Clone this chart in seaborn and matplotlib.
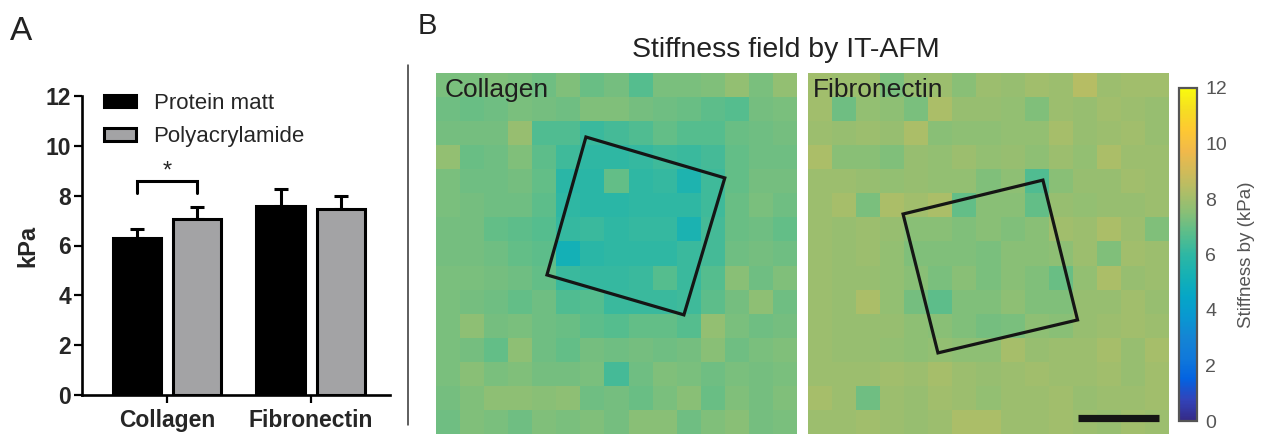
import numpy as np
import pandas as pd
import seaborn as sns
import matplotlib.pyplot as plt
from matplotlib.colors import LinearSegmentedColormap
from matplotlib.patches import Polygon
from matplotlib.lines import Line2D

# ---- Panel A data (bar chart, kPa) ----
coatings = ['Collagen', 'Collagen', 'Fibronectin', 'Fibronectin']
substrates = ['Protein matt', 'Polyacrylamide', 'Protein matt', 'Polyacrylamide']
stiffness_mean = [6.3, 7.05, 7.6, 7.48]
stiffness_err = [0.35, 0.5, 0.65, 0.5]
sig_low, sig_high = 8.1, 8.6

# ---- Panel B data (15 x 15 stiffness maps, kPa) ----
collagen_map = [
    [7.3, 7.3, 7.4, 7.3, 7.1, 7.4, 7.0, 7.2, 6.7, 7.3, 7.3, 7.4, 7.7, 7.3, 7.7],
    [7.1, 7.0, 7.1, 7.3, 7.2, 7.1, 7.4, 7.4, 7.2, 7.1, 7.0, 6.8, 6.7, 7.2, 7.3],
    [7.2, 7.2, 7.2, 7.8, 6.6, 6.6, 6.2, 6.4, 6.6, 6.9, 6.7, 6.7, 7.0, 7.1, 7.2],
    [7.7, 7.0, 7.1, 7.4, 6.8, 6.3, 6.0, 6.0, 6.1, 6.3, 6.2, 6.4, 6.9, 7.1, 7.1],
    [7.3, 7.1, 7.1, 7.2, 6.9, 5.9, 5.9, 6.9, 6.0, 6.1, 5.5, 6.3, 6.9, 7.2, 7.2],
    [7.3, 7.2, 7.1, 7.1, 6.8, 6.0, 5.9, 5.9, 6.0, 6.0, 6.0, 6.3, 7.0, 7.3, 7.1],
    [7.2, 7.2, 6.9, 6.8, 6.7, 6.1, 6.2, 6.0, 6.1, 6.1, 5.4, 6.4, 7.0, 7.1, 6.9],
    [7.2, 7.2, 7.1, 6.9, 6.8, 5.2, 5.9, 6.0, 6.0, 6.0, 6.2, 6.4, 7.1, 7.2, 7.1],
    [7.3, 7.3, 7.2, 7.1, 6.9, 6.2, 6.1, 6.1, 6.2, 6.7, 6.2, 6.7, 7.5, 7.1, 7.4],
    [7.3, 7.2, 7.1, 6.9, 7.1, 6.6, 6.7, 6.2, 6.2, 6.2, 6.3, 6.8, 7.2, 7.6, 7.1],
    [7.3, 7.6, 7.2, 7.3, 7.1, 7.0, 6.8, 6.7, 6.9, 6.9, 6.7, 7.7, 7.3, 7.1, 7.2],
    [7.3, 7.2, 6.9, 7.6, 7.1, 6.9, 7.2, 7.1, 7.2, 7.1, 7.2, 7.5, 7.1, 7.3, 7.4],
    [7.3, 7.5, 7.3, 7.4, 7.2, 7.2, 7.3, 6.4, 7.1, 7.4, 7.3, 7.1, 7.3, 7.2, 7.3],
    [7.2, 7.4, 7.6, 7.6, 7.5, 7.6, 7.1, 7.2, 7.0, 7.3, 7.5, 7.0, 7.4, 7.2, 7.4],
    [7.1, 7.4, 7.3, 7.1, 7.4, 7.3, 7.4, 7.2, 7.5, 7.5, 7.1, 7.4, 7.5, 7.2, 7.3],
]
fibronectin_map = [
    [8.0, 7.9, 7.9, 7.3, 7.8, 7.9, 7.5, 7.9, 7.8, 8.0, 7.9, 8.4, 7.9, 8.0, 8.0],
    [8.0, 7.1, 7.7, 7.6, 7.3, 8.2, 7.8, 7.8, 7.7, 7.4, 7.9, 7.8, 8.0, 7.9, 7.8],
    [7.9, 7.8, 7.9, 7.8, 8.2, 7.5, 7.6, 7.6, 7.7, 7.7, 8.1, 7.8, 7.9, 8.0, 7.8],
    [8.2, 7.5, 7.5, 7.4, 7.8, 7.7, 7.9, 7.7, 7.8, 7.6, 7.9, 7.7, 8.2, 7.9, 7.9],
    [7.9, 7.9, 7.8, 7.7, 7.8, 7.7, 7.7, 7.4, 7.6, 6.6, 7.5, 7.8, 7.8, 8.0, 7.9],
    [7.9, 8.1, 7.3, 8.2, 8.0, 8.2, 6.9, 7.5, 7.5, 6.9, 7.8, 7.7, 7.8, 7.8, 7.9],
    [7.9, 7.8, 7.9, 7.8, 7.5, 7.5, 7.4, 7.5, 7.4, 7.5, 8.0, 7.9, 8.2, 7.9, 7.4],
    [7.9, 7.8, 7.9, 7.7, 7.4, 7.4, 7.4, 7.3, 7.5, 7.5, 7.6, 7.9, 7.4, 8.0, 7.9],
    [7.9, 7.8, 7.8, 7.7, 7.5, 7.3, 7.5, 7.3, 7.5, 7.4, 7.0, 7.7, 8.2, 7.8, 7.9],
    [7.9, 7.8, 8.2, 7.7, 7.2, 6.8, 7.4, 7.4, 7.6, 7.4, 7.4, 7.8, 7.8, 8.0, 7.8],
    [7.9, 7.8, 7.8, 7.8, 7.6, 7.5, 7.4, 7.2, 7.3, 7.6, 7.5, 7.8, 7.9, 8.0, 7.9],
    [7.9, 7.8, 7.8, 7.7, 7.6, 7.7, 7.6, 7.6, 8.1, 7.8, 7.9, 7.9, 8.1, 7.8, 8.1],
    [7.9, 7.9, 7.9, 8.0, 7.9, 8.1, 7.9, 7.8, 7.9, 8.0, 7.9, 7.9, 8.0, 7.8, 8.0],
    [8.1, 7.9, 7.1, 7.9, 7.8, 8.0, 7.9, 7.7, 7.9, 7.9, 8.0, 7.8, 7.9, 7.9, 8.0],
    [7.9, 7.9, 8.0, 7.9, 7.8, 7.9, 8.2, 8.2, 7.9, 7.9, 8.0, 7.9, 7.8, 8.0, 7.9],
]
# cell region outlines (map cell units: column, row)
collagen_roi = [(6.23, 2.66), (12.0, 4.36), (10.3, 10.05), (4.61, 8.39)]
fibronectin_roi = [(3.95, 5.86), (9.76, 4.45), (11.2, 10.26), (5.4, 11.63)]
scalebar_x = [11.2, 14.6]
scalebar_y = [14.35, 14.35]
cbar_ticks = [0, 2, 4, 6, 8, 10, 12]

# parula-like colormap
parula_colors = [
    (0.2081, 0.1663, 0.5292), (0.1959, 0.2645, 0.7279), (0.0117, 0.3875, 0.8820),
    (0.0629, 0.4737, 0.8554), (0.0793, 0.5200, 0.8312), (0.0343, 0.5966, 0.8199),
    (0.0228, 0.6535, 0.7768), (0.0843, 0.6928, 0.7062), (0.1801, 0.7177, 0.6424),
    (0.3482, 0.7424, 0.5473), (0.5300, 0.7491, 0.4661), (0.6834, 0.7435, 0.4044),
    (0.8185, 0.7327, 0.3498), (0.9450, 0.7261, 0.2886), (0.9955, 0.7861, 0.1967),
    (0.9626, 0.8705, 0.1309), (0.9763, 0.9831, 0.0538),
]
parula = LinearSegmentedColormap.from_list('parula', parula_colors)

sns.set_style('white')
plt.rcParams['font.family'] = ['Liberation Sans', 'DejaVu Sans']

fig = plt.figure(figsize=(12.61, 4.37), dpi=100)
W, H = 1261, 437


def fig_box(x0, y0, x1, y1):
    # pixel box (top-left origin) -> figure fraction rect
    return [x0 / W, 1 - y1 / H, (x1 - x0) / W, (y1 - y0) / H]


# ---------------- Panel A ----------------
ax = fig.add_axes(fig_box(82, 96, 390, 395))
bars = pd.DataFrame({'Coating': coatings, 'Substrate': substrates, 'kPa': stiffness_mean})
sns.barplot(data=bars, x='Coating', y='kPa', hue='Substrate',
            palette=['#000000', '#a2a2a6'], errorbar=None, width=0.84, gap=0.2,
            edgecolor='black', linewidth=2.2, ax=ax, zorder=2)

# upward-only error bars
centers = {}
for container, sub in zip(ax.containers, ['Protein matt', 'Polyacrylamide']):
    sub_df = bars[bars['Substrate'] == sub]
    errs = [stiffness_err[i] for i in sub_df.index]
    xs = [b.get_x() + b.get_width() / 2 for b in container]
    ax.errorbar(xs, sub_df['kPa'].values, yerr=[np.zeros(len(errs)), errs], fmt='none',
                ecolor='black', elinewidth=2.2, capsize=5, capthick=2.2, zorder=1)
    centers[sub] = xs

# significance bracket
x0, x1 = centers['Protein matt'][0], centers['Polyacrylamide'][0]
ax.plot([x0, x0, x1, x1], [sig_low, sig_high, sig_high, sig_low], color='black', lw=2.2,
        solid_joinstyle='miter')
ax.text((x0 + x1) / 2, sig_high - 0.08, '*', ha='center', va='bottom', fontsize=17)

ax.set_xlim(-0.59, 1.55)
ax.set_ylim(0, 12)
ax.set_yticks(range(0, 13, 2))
ax.set_xlabel('')
ax.set_ylabel('kPa', fontsize=17, fontweight='bold', labelpad=4)
sns.despine(ax=ax)
for side in ['left', 'bottom']:
    ax.spines[side].set_linewidth(1.9)
    ax.spines[side].set_color('black')
ax.tick_params(axis='both', which='major', direction='out', length=6, width=1.6,
               color='black', left=True, bottom=True, labelsize=16.5, pad=2)
ax.tick_params(axis='x', pad=4)
for lab in ax.get_xticklabels() + ax.get_yticklabels():
    lab.set_fontweight('bold')
ax.legend(loc='upper left', bbox_to_anchor=(0.07, 1.01), frameon=False, fontsize=16,
          handlelength=1.45, handleheight=0.5, handletextpad=0.8, labelspacing=0.55,
          borderpad=0, borderaxespad=0)

fig.text(10 / W, 1 - 40 / H, 'A', fontsize=24, color='#222222')
fig.add_artist(Line2D([408 / W, 408 / W], [1 - 65 / H, 1 - 425 / H],
                      transform=fig.transFigure, color='#333333', lw=1.1))

# ---------------- Panel B ----------------
fig.text(418 / W, 1 - 34 / H, 'B', fontsize=21, color='#222222')
fig.text(786 / W, 1 - 50 / H, 'Stiffness field by IT-AFM', fontsize=20.5,
         ha='center', va='center', color='#222222')

ax_c = fig.add_axes(fig_box(436, 73, 797, 434))
ax_f = fig.add_axes(fig_box(808, 73, 1169, 434))
cax = fig.add_axes(fig_box(1179, 88, 1197, 421))

sns.heatmap(np.array(collagen_map), cmap=parula, vmin=0, vmax=12, ax=ax_c,
            xticklabels=False, yticklabels=False, cbar=True, cbar_ax=cax)
sns.heatmap(np.array(fibronectin_map), cmap=parula, vmin=0, vmax=12, ax=ax_f,
            xticklabels=False, yticklabels=False, cbar=False)

for a, roi, name, tx in [(ax_c, collagen_roi, 'Collagen', 0.025),
                         (ax_f, fibronectin_roi, 'Fibronectin', 0.014)]:
    a.add_patch(Polygon(roi, closed=True, fill=False, edgecolor='#151515', lw=2.3))
    a.text(tx, 0.985, name, transform=a.transAxes, ha='left', va='top',
           fontsize=19, color='#1e1e1e')

ax_f.plot(scalebar_x, scalebar_y, color='#151515', lw=5.2, solid_capstyle='butt')

cax.set_yticks(cbar_ticks)
cax.tick_params(axis='y', direction='in', length=3, width=1.2, color='#333333',
                labelsize=14, labelcolor='#555555', pad=6)
cbar = ax_c.collections[0].colorbar
cbar.outline.set_edgecolor('#555555')
cbar.outline.set_linewidth(1.6)
cax.set_ylabel('Stiffness by (kPa)', fontsize=13.5, color='#555555', labelpad=8)

fig.savefig('out.png', dpi=100)
